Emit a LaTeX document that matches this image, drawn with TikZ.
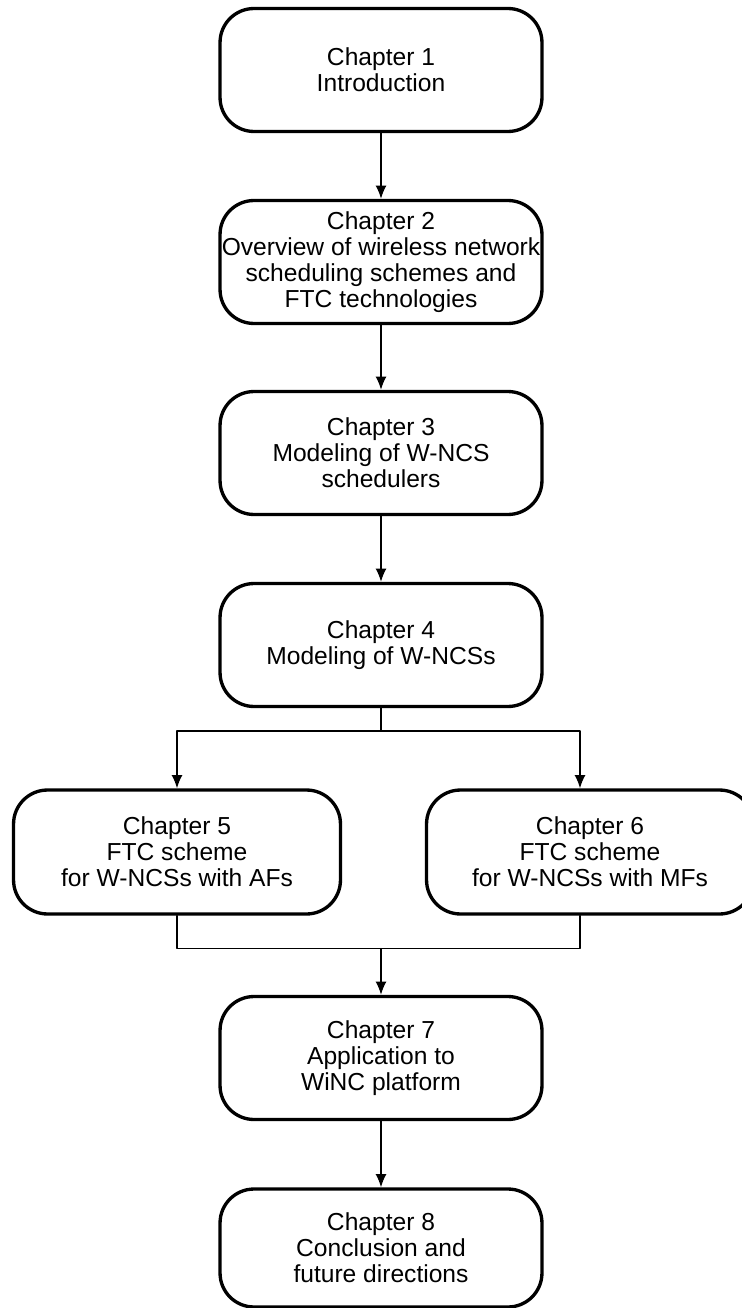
\documentclass[tikz,border=0pt]{standalone}
\usepackage{fontspec}
\setmainfont{Liberation Sans}
\usetikzlibrary{arrows.meta}

\begin{document}
\begin{tikzpicture}[x=0.02cm,y=-0.02cm,line cap=round,line join=round,
    chapbox/.style={draw,line width=1.9pt,rounded corners=0.68cm,inner sep=0pt,
      minimum width=6.44cm,minimum height=2.46cm,align=center,
      font=\fontsize{14}{14.8}\selectfont},
    sidebox/.style={chapbox,minimum width=6.54cm,minimum height=2.48cm},
    link/.style={line width=0.85pt},
    arr/.style={link,-{Latex[length=7.5pt,width=6.2pt]}}]
  \useasboundingbox (0,0) rectangle (742,1308);
  \node[chapbox] (ch1) at (381,70) {Chapter 1\\Introduction};
  \node[chapbox] (ch2) at (381,262) {Chapter 2\\Overview of wireless network\\scheduling schemes and\\FTC technologies};
  \node[chapbox] (ch3) at (381,453) {Chapter 3\\Modeling of W-NCS\\schedulers};
  \node[chapbox] (ch4) at (381,645) {Chapter 4\\Modeling of W-NCSs};
  \node[sidebox] (ch5) at (177,852) {Chapter 5\\FTC scheme\\for W-NCSs with AFs};
  \node[sidebox] (ch6) at (590,852) {Chapter 6\\FTC scheme\\for W-NCSs with MFs};
  \node[chapbox] (ch7) at (381,1058) {Chapter 7\\Application to\\WiNC platform};
  \node[chapbox,minimum height=2.36cm] (ch8) at (381,1248) {Chapter 8\\Conclusion and\\future directions};
  \draw[arr] (ch1) -- (ch2);
  \draw[arr] (ch2) -- (ch3);
  \draw[arr] (ch3) -- (ch4);
  \draw[link] (ch4.south) -- ++(0,23) coordinate (fork);
  \draw[arr] (fork) -| (ch5.north);
  \draw[arr] (fork) -| ([xshift=-0.2cm]ch6.north);
  \draw[link] (ch5.south) -- ++(0,33) coordinate (join) -| ([xshift=-0.2cm]ch6.south);
  \draw[arr] (join -| ch7.north) -- (ch7.north);
  \draw[arr] (ch7) -- (ch8);
\end{tikzpicture}
\end{document}
